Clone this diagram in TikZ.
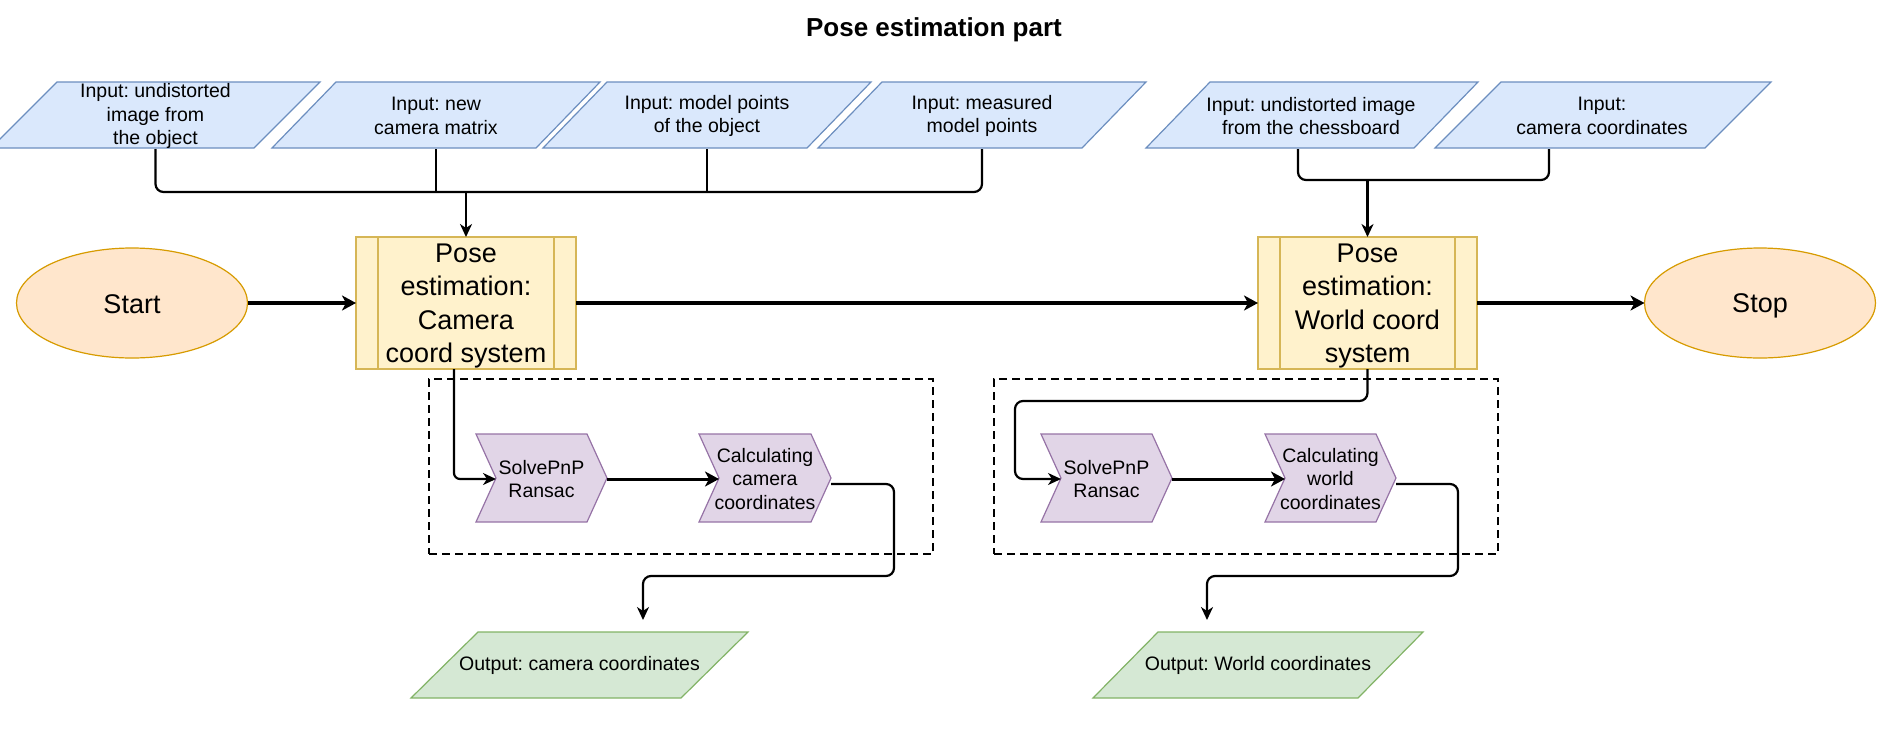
\documentclass[tikz,border=0pt]{standalone}
\usepackage{fontspec}
\setmainfont{Liberation Sans}
\frenchspacing
\usetikzlibrary{arrows.meta,shapes.geometric}
\definecolor{inF}{HTML}{DAE8FC}\definecolor{inD}{HTML}{6C8EBF}
\definecolor{poF}{HTML}{FFF2CC}\definecolor{poD}{HTML}{D6B656}
\definecolor{elF}{HTML}{FFE6CC}\definecolor{elD}{HTML}{D79B00}
\definecolor{chF}{HTML}{E1D5E7}\definecolor{chD}{HTML}{9673A6}
\definecolor{ouF}{HTML}{D5E8D4}\definecolor{ouD}{HTML}{82B366}
\begin{document}
\begin{tikzpicture}[x=1pt,y=-1pt,
  txt/.style={font=\fontsize{19.5}{23.3}\selectfont, align=center, inner sep=0pt, outer sep=0pt},
  bigtxt/.style={font=\fontsize{27}{33.3}\selectfont, align=center, inner sep=0pt, outer sep=0pt},
  anch/.style={draw=none, inner sep=0pt, outer sep=0pt},
  inshape/.style={draw=inD, fill=inF, line width=1.2pt, line join=miter},
  chshape/.style={draw=chD, fill=chF, line width=1.2pt},
  oushape/.style={draw=ouD, fill=ouF, line width=1.2pt},
  posebox/.style={anch, draw=poD, fill=poF, line width=1.2pt, minimum height=132pt},
  term/.style={anch, ellipse, draw=elD, fill=elF, line width=1.2pt, minimum width=231pt, minimum height=110pt},
  dbox/.style={anch, draw=black, line width=2pt, dash pattern=on 8pt off 5pt},
  thinarr/.style={-{Stealth[length=13pt,width=12pt,inset=4pt]}},
  thickarr/.style={-{Stealth[length=14pt,width=15pt,inset=4pt]}},
  conn/.style={draw=black, line width=2.2pt},
  midconn/.style={draw=black, line width=3pt},
  flow/.style={draw=black, line width=3.5pt, thickarr}
]
\useasboundingbox (0,0) rectangle (1890,740);

% title
\node[font=\bfseries\fontsize{26}{31}\selectfont, inner sep=0pt] (title) at (934,30) {Pose estimation part};

% dashed groups
\node[dbox, minimum width=504pt, minimum height=175pt] (g1) at (681,466.5) {};
\node[dbox, minimum width=504pt, minimum height=175pt] (g2) at (1246,466.5) {};

% input parallelograms
\foreach \bl/\tl/\tr/\br in {-9/57/320/254, 272/336/600/536, 543/607/871/807, 818/882/1146/1082, 1146/1210/1478/1414, 1435/1501/1771/1705}
  \draw[inshape] (\bl,148) -- (\tl,82) -- (\tr,82) -- (\br,148) -- cycle;

% output parallelograms
\draw[oushape] (411,698) -- (478,632) -- (748,632) -- (681,698) -- cycle;
\draw[oushape] (1093,698) -- (1158,632) -- (1423,632) -- (1358,698) -- cycle;

% chevrons
\foreach \a/\b/\c/\d in {476/496/587/607, 699/719/811/831, 1041/1061/1152/1172, 1265/1285/1376/1396}
  \draw[chshape] (\a,434) -- (\c,434) -- (\d,478) -- (\c,522) -- (\a,522) -- (\b,478) -- cycle;

% input nodes
\node[txt, minimum width=329pt, minimum height=66pt] (p1) at (155.5,116) {Input: undistorted\\image from\\ the object};
\node[txt, minimum width=328pt, minimum height=66pt] (p2) at (436,116) {Input: new\\camera matrix};
\node[txt, minimum width=328pt, minimum height=66pt] (p3) at (707,116) {Input: model points\\of the object};
\node[txt, minimum width=328pt, minimum height=66pt] (p4) at (982,116) {Input: measured\\model points};
\node[txt, minimum width=332pt, minimum height=66pt] (p5) at (1311,116) {Input: undistorted image\\from the chessboard};
\node[txt, minimum width=336pt, minimum height=66pt] (p6) at (1602,116) {Input:\\camera coordinates};

% output nodes
\node[txt, minimum width=337pt, minimum height=66pt] (out1) at (579.5,665) {Output: camera coordinates};
\node[txt, minimum width=330pt, minimum height=66pt] (out2) at (1258,665) {Output: World coordinates};

% chevron nodes
\node[txt, minimum width=131pt, minimum height=88pt] (c1) at (541.5,479) {SolvePnP\\Ransac};
\node[txt, minimum width=132pt, minimum height=88pt] (c2) at (765,479) {Calculating\\camera\\coordinates};
\node[txt, minimum width=131pt, minimum height=88pt] (c3) at (1106.5,479) {SolvePnP\\Ransac};
\node[txt, minimum width=131pt, minimum height=88pt] (c4) at (1330.5,479) {Calculating\\world\\coordinates};

% pose boxes
\node[posebox, minimum width=220pt] (pose1) at (466,303) {};
\draw[draw=poD, line width=1.2pt] ([xshift=22pt]pose1.north west) -- ([xshift=22pt]pose1.south west);
\draw[draw=poD, line width=1.2pt] ([xshift=-22pt]pose1.north east) -- ([xshift=-22pt]pose1.south east);
\node[bigtxt] (pose1t) at (466,306) {Pose\\estimation:\\Camera\\coord system};
\node[posebox, minimum width=219pt] (pose2) at (1367.5,303) {};
\draw[draw=poD, line width=1.2pt] ([xshift=22pt]pose2.north west) -- ([xshift=22pt]pose2.south west);
\draw[draw=poD, line width=1.2pt] ([xshift=-22pt]pose2.north east) -- ([xshift=-22pt]pose2.south east);
\node[bigtxt] (pose2t) at (1367.5,306) {Pose\\estimation:\\World coord\\system};

% terminals
\node[term] (start) at (132,303) {};
\node[bigtxt] (startt) at (132,304) {Start};
\node[term] (stop) at (1760,303) {};
\node[bigtxt] (stopt) at (1760,306) {Stop};

% bus coordinates
\coordinate (bus1) at (466,192);
\coordinate (bus2) at (1367.5,180);
\coordinate (k1) at (894,576);
\coordinate (k2) at (1015,401);
\coordinate (k3) at (1458,576);

% input connectors
\draw[conn, rounded corners=8pt] (p1.south) |- (bus1) -| (p4.south);
\draw[conn] (p2.south) -- (p2.south |- bus1);
\draw[conn] (p3.south) -- (p3.south |- bus1);
\draw[conn, thinarr] (bus1) -- (pose1.north);
\draw[conn, rounded corners=8pt] ([xshift=-13pt]p5.south) |- (bus2) -| ([xshift=-53pt]p6.south);
\draw[conn, thinarr] (bus2) -- (pose2.north);

% main flow
\draw[flow] (start) -- (pose1);
\draw[flow] (pose1) -- (pose2);
\draw[flow] (pose2) -- (stop);

% camera group
\draw[conn, thinarr, rounded corners=6pt] ([xshift=-12pt]pose1.south) |- ([xshift=20pt]c1.west);
\draw[midconn, thickarr] (c1.east) -- ([xshift=20pt]c2.west);
\draw[conn, thinarr, rounded corners=8pt, shorten >=12pt] ([yshift=-5pt]c2.east) -| (k1) -| ([xshift=63.5pt]out1.north);

% world group
\draw[conn, thinarr, rounded corners=8pt] (pose2.south) |- (k2) |- ([xshift=20pt]c3.west);
\draw[midconn, thickarr] (c3.east) -- ([xshift=20pt]c4.west);
\draw[conn, thinarr, rounded corners=8pt, shorten >=12pt] ([yshift=-5pt]c4.east) -| (k3) -| ([xshift=-51pt]out2.north);
\end{tikzpicture}
\end{document}
